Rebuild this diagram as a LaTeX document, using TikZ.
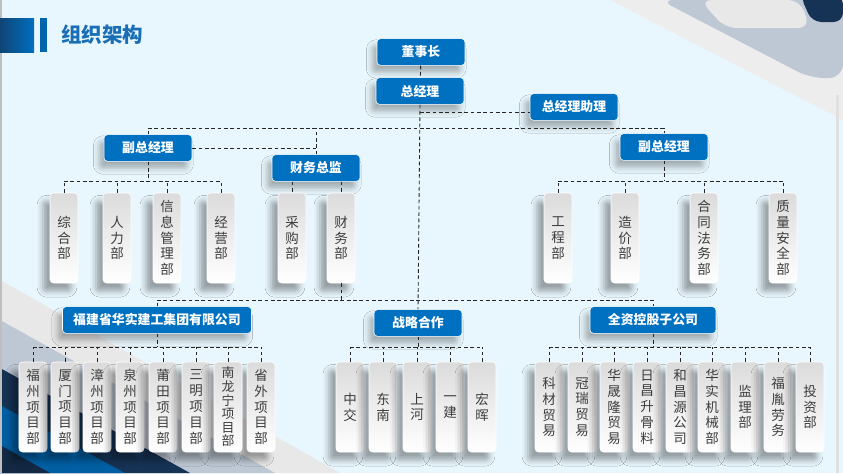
\documentclass[tikz,border=0pt]{standalone}
\usepackage{fontspec}
\setmainfont{Noto Sans CJK SC}
\usetikzlibrary{
    positioning,
    calc,
    shadows.blur
}
\definecolor{hsblue}{RGB}{0,112,192}
\definecolor{hsbg}{RGB}{232,247,253}
\definecolor{hstitle}{RGB}{26,110,182}
\definecolor{hsnavy}{RGB}{22,50,84}
\definecolor{hssteel}{RGB}{190,200,212}
\definecolor{hstext}{RGB}{60,60,60}
\tikzset{
  post/.style  = {draw=white, line width=0.5pt, rounded corners=3pt,
                  fill=hsblue, text=white, inner sep=1pt,
                  minimum width=2.64cm, minimum height=0.8cm,
                  font=\fontsize{11}{13}\selectfont\bfseries,
                  blur shadow={shadow xshift=-4pt, shadow yshift=-6pt,
                               shadow blur radius=5pt, shadow opacity=30}},
  dept/.style  = {draw=white, line width=0.5pt, rounded corners=3pt,
                  top color=black!14, bottom color=white, text=hstext,
                  align=center, inner sep=1pt,
                  minimum width=0.84cm, minimum height=2.7cm,
                  font=\fontsize{11.5}{13.5}\selectfont,
                  blur shadow={shadow xshift=-6pt, shadow yshift=-7pt,
                               shadow blur radius=5pt, shadow opacity=35}},
  link/.style  = {black!85, line width=0.75pt, dash pattern=on 3.2pt off 2.2pt}
}

\begin{document}
\begin{tikzpicture}[x=0.03cm, y=-0.03cm]

\useasboundingbox (0,0) rectangle (843,473);
\fill[hsbg] (0,0) rectangle (843,473);

%% background bands
\fill[black!7]  (610,0) -- (843,0) -- (843,120) -- cycle;
\fill[hssteel, rounded corners=12pt] (660,0) -- (843,0) -- (843,78) -- (810,78) -- cycle;
\fill[black!9, rounded corners=10pt] (700,0) -- (800,0) -- (810,28) -- (725,28) -- cycle;
\fill[hsnavy, rounded corners=8pt] (800,-5) -- (843,-5) -- (843,22) -- (812,22) -- cycle;
\fill[black!9]  (0,280) -- (340,473) -- (0,473) -- cycle;
\fill[hssteel]  (0,320) -- (275,473) -- (0,473) -- cycle;
\fill[hsnavy]   (0,368) -- (190,473) -- (0,473) -- cycle;
\fill[hsblue!85!black] (0,405) -- (125,473) -- (0,473) -- cycle;
\fill[hsnavy!80!black] (0,445) -- (50,473) -- (0,473) -- cycle;
\fill[black!25] (0,0) rectangle (2,473);
\fill[black!12] (836,95) rectangle (839,473);

%% title
\shade[left color=hsnavy!70!hsblue, right color=hsblue] (0,18) rectangle (34,52);
\fill[hsblue!90!black] (40,18) rectangle (47,52);
\node[anchor=west, text=hstitle, font=\fontsize{17.5}{20}\selectfont\bfseries]
  (title) at (57,35) {组织架构};

%% connectors
\coordinate (jAsst) at (420,112);
\coordinate (busA)  at (0,128);
\coordinate (busL)  at (0,181);
\coordinate (busM)  at (0,300);
\coordinate (busB)  at (0,347);

\node[post] (chair) at (421,52)  {董事长};
\node[post] (gm)    at (420,91)  {总经理};
\node[post] (asst)  at (574,107) {总经理助理};
\node[post] (vpL)   at (148,148) {副总经理};
\node[post] (cfo)   at (316,168) {财务总监};
\node[post] (vpR)   at (664,147) {副总经理};
\node[post, minimum width=5.67cm] (grp) at (157,320) {福建省华实建工集团有限公司};
\node[post] (strat) at (418,323) {战略合作};
\node[post, minimum width=3.78cm] (sub) at (653,320) {全资控股子公司};

%% departments
\foreach \n/\x/\t in {d1/64/综\\合\\部, d2/117/人\\力\\部, d3/167/信\\息\\管\\理\\部,
                      d4/221/经\\营\\部, f1/292/采\\购\\部, f2/341/财\\务\\部,
                      e1/558/工\\程\\部, e2/625/造\\价\\部, e3/704/合\\同\\法\\务\\部,
                      e4/783/质\\量\\安\\全\\部}
  \node[dept] (\n) at (\x,238) {\t};

\foreach \n/\x/\t in {g1/33/福\\州\\项\\目\\部, g2/65/厦\\门\\项\\目\\部,
                      g3/97/漳\\州\\项\\目\\部, g4/130/泉\\州\\项\\目\\部,
                      g5/163/莆\\田\\项\\目\\部, g6/196/三\\明\\项\\目\\部,
                      g8/261/省\\外\\项\\目\\部,
                      s1/350/中\\交, s2/383/东\\南, s3/417/上\\河,
                      s4/450/一\\建, s5/482/宏\\晖,
                      c1/549/科\\材\\贸\\易, c2/582/冠\\瑞\\贸\\易,
                      c3/614/华\\晟\\隆\\贸\\易, c4/647/日\\昌\\升\\骨\\料,
                      c5/680/和\\昌\\源\\公\\司, c6/712/华\\实\\机\\械\\部,
                      c7/745/监\\理\\部, c8/778/福\\胤\\劳\\务, c9/810/投\\资\\部}
  \node[dept] (\n) at (\x,407) {\t};
\node[dept, font=\fontsize{11}{11.6}\selectfont] (g7) at (228,407) {南\\龙\\宁\\项\\目\\部};

%% top
\draw[link] (chair) -- (gm);
\draw[link] (gm.south) -- (strat.north);
\draw[link] (jAsst) -- (jAsst -| asst.west);
\draw[link] (vpL.north) -- (vpL.north |- busA) -- (vpR.north |- busA) -- (vpR.north);
\draw[link] (cfo.north) -- (cfo.north |- busA);
\draw[link] (vpL.east) -- (vpL.east -| cfo.north);

%% left / right departments
\draw[link] (vpL.south) -- (vpL.south |- busL);
\draw[link] (d1.north |- busL) -- (d4.north |- busL);
\foreach \n in {d1,d2,d3,d4}
  \draw[link] (\n.north) -- (\n.north |- busL);
\draw[link] (cfo.south -| f1.north) -- (f1.north);
\draw[link] (cfo.south -| f2.north) -- (f2.north);
\draw[link] (vpR.south) -- (vpR.south |- busL);
\draw[link] (e1.north |- busL) -- (e4.north |- busL);
\foreach \n in {e1,e2,e3,e4}
  \draw[link] (\n.north) -- (\n.north |- busL);

%% companies
\draw[link] (grp.north) -- (grp.north |- busM) -- (sub.north |- busM) -- (sub.north);
\draw[link] (f2.south) -- (f2.south |- busM);
\draw[link] (grp.south) -- (grp.south |- busB);
\draw[link] (g1.north |- busB) -- (g8.north |- busB);
\foreach \n in {g1,g2,g3,g4,g5,g6,g7,g8}
  \draw[link] (\n.north) -- (\n.north |- busB);
\draw[link] (strat.south) -- (strat.south |- busB);
\draw[link] (s1.north |- busB) -- (s5.north |- busB);
\foreach \n in {s1,s2,s3,s4,s5}
  \draw[link] (\n.north) -- (\n.north |- busB);
\draw[link] (sub.south) -- (sub.south |- busB);
\draw[link] (c1.north |- busB) -- (c9.north |- busB);
\foreach \n in {c1,c2,c3,c4,c5,c6,c7,c8,c9}
  \draw[link] (\n.north) -- (\n.north |- busB);

\end{tikzpicture}
\end{document}
